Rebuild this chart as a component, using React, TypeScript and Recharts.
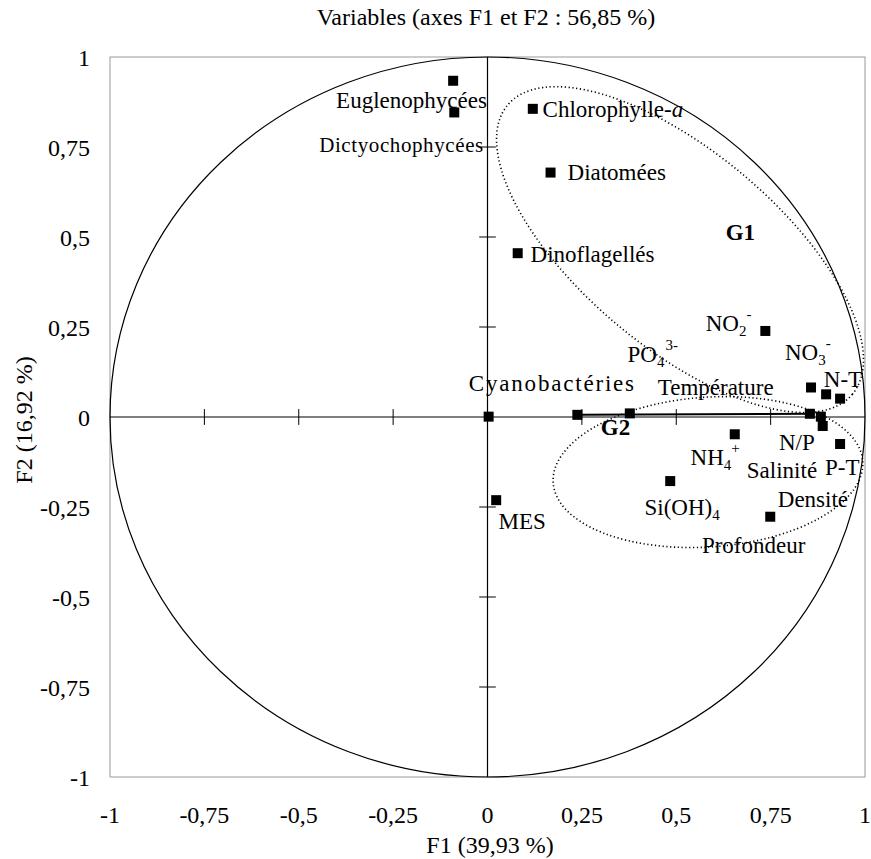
import React from "react";
import {
  ScatterChart,
  Scatter,
  XAxis,
  YAxis,
  ReferenceLine,
  ReferenceArea,
} from "recharts";

const FONT = "'Liberation Serif', 'Times New Roman', Times, serif";

// variables projected on the F1 / F2 plane
const VARIABLES = [
  "Euglenophycées", "Dictyochophycées", "Chlorophylle-a", "Diatomées",
  "Dinoflagellés", "NO2-", "N-T", "NO3-", "Azote", "Température", "N/P",
  "Salinité", "P-T", "NH4+", "Cyanobactéries", "PO43-", "Origine", "MES",
  "Si(OH)4", "Profondeur",
];
const F1 = [
  -0.091, -0.088, 0.12, 0.167, 0.08, 0.736, 0.857, 0.897, 0.934, 0.854,
  0.883, 0.888, 0.934, 0.655, 0.238, 0.377, 0.003, 0.023, 0.484, 0.749,
];
const F2 = [
  0.934, 0.846, 0.856, 0.679, 0.455, 0.239, 0.082, 0.063, 0.051, 0.009,
  0.001, -0.025, -0.075, -0.048, 0.006, 0.01, 0.001, -0.231, -0.178, -0.277,
];

const TICKS = [-1, -0.75, -0.5, -0.25, 0, 0.25, 0.5, 0.75, 1];
const AXIS_MARKS = [-0.75, -0.5, -0.25, 0.25, 0.5, 0.75];

// label anchors (F1, F2 of text baseline start)
const LABELS = [
  { text: "Euglenophycées", x: -0.401, y: 0.858 },
  { text: "Dictyochophycées", x: -0.446, y: 0.736, small: true },
  { text: "Chlorophylle-", italic: "a", x: 0.146, y: 0.833 },
  { text: "Diatomées", x: 0.212, y: 0.658 },
  { text: "Dinoflagellés", x: 0.114, y: 0.431 },
  { text: "G1", x: 0.631, y: 0.492, bold: true },
  { text: "NO", sub: "2", sup: "-", x: 0.578, y: 0.239 },
  { text: "NO", sub: "3", sup: "-", x: 0.788, y: 0.158 },
  { text: "PO", sub: "4", sup: "3-", x: 0.371, y: 0.153 },
  { text: "N-T", x: 0.891, y: 0.083 },
  { text: "Cyanobactéries", x: 0.393, y: 0.072, end: true, wide: true },
  { text: "Température", x: 0.451, y: 0.061 },
  { text: "G2", x: 0.3, y: -0.05, bold: true },
  { text: "N/P", x: 0.772, y: -0.092 },
  { text: "NH", sub: "4", sup: "+", x: 0.538, y: -0.133 },
  { text: "Salinité", x: 0.687, y: -0.169 },
  { text: "P-T", x: 0.894, y: -0.161 },
  { text: "Si(OH)", sub: "4", x: 0.416, y: -0.272 },
  { text: "Densité", x: 0.769, y: -0.25 },
  { text: "MES", x: 0.029, y: -0.311 },
  { text: "Profondeur", x: 0.568, y: -0.378 },
];

// group ellipses: centre and half axes in F1/F2 units
const G1 = { x: 0.51, y: 0.465, rx: 0.596, ry: 0.272, angle: 40 };
const G2 = { x: 0.584, y: -0.153, rx: 0.411, ry: 0.208, angle: -4 };

const fmt = (v: number) => String(v).replace(".", ",");

const points = VARIABLES.map((name, i) => ({ name, x: F1[i], y: F2[i] }));

const ellipseShape = (angle: number) => (p: any) => {
  const cx = p.x + p.width / 2;
  const cy = p.y + p.height / 2;
  return (
    <ellipse
      cx={cx}
      cy={cy}
      rx={Math.abs(p.width) / 2}
      ry={Math.abs(p.height) / 2}
      fill="none"
      stroke="#000"
      strokeWidth={1.6}
      strokeDasharray="1.2 2.6"
      transform={`rotate(${angle} ${cx} ${cy})`}
    />
  );
};

const frameShape = (p: any) => (
  <g>
    <rect x={p.x} y={p.y} width={p.width} height={p.height} fill="none" stroke="#9a9a9a" strokeWidth={1} />
    <ellipse
      cx={p.x + p.width / 2}
      cy={p.y + p.height / 2}
      rx={p.width / 2}
      ry={p.height / 2}
      fill="none"
      stroke="#000"
      strokeWidth={1.2}
    />
  </g>
);

const squareShape = (p: any) => (
  <rect x={p.cx - 5} y={p.cy - 5} width={10} height={10} fill="#000" />
);

const labelShape = (p: any) => {
  const l = p.payload;
  return (
    <text
      x={p.cx}
      y={p.cy}
      fontFamily={FONT}
      fontSize={l.small ? 21 : 23}
      fontWeight={l.bold ? "bold" : "normal"}
      letterSpacing={l.small ? 0.6 : l.wide ? 1.8 : 0}
      textAnchor={l.end ? "end" : "start"}
      fill="#000"
    >
      <tspan>{l.text}</tspan>
      {l.italic && <tspan fontStyle="italic">{l.italic}</tspan>}
      {l.sub && (
        <tspan fontSize={15} dy={5}>
          {l.sub}
        </tspan>
      )}
      {l.sup && (
        <tspan fontSize={15} dy={l.sub ? -17 : -11} dx={l.sup.length > 1 ? 1 : 0}>
          {l.sup}
        </tspan>
      )}
    </text>
  );
};

export default function App() {
  const tick = { fill: "#000", fontSize: 24, fontFamily: FONT };
  return (
    <div style={{ position: "absolute", left: 0, top: 0, width: 871, height: 859, background: "#fff", fontFamily: FONT }}>
      <div
        style={{
          position: "absolute",
          left: 486,
          top: 5,
          transform: "translateX(-50%)",
          whiteSpace: "nowrap",
          fontSize: 24,
          lineHeight: "24px",
        }}
      >
        Variables (axes F1 et F2 : 56,85 %)
      </div>
      <div
        style={{
          position: "absolute",
          left: 490,
          top: 833,
          transform: "translateX(-50%)",
          whiteSpace: "nowrap",
          fontSize: 24,
          lineHeight: "24px",
        }}
      >
        F1 (39,93 %)
      </div>
      <div
        style={{
          position: "absolute",
          left: 24,
          top: 420,
          transform: "translate(-50%, -50%) rotate(-90deg)",
          whiteSpace: "nowrap",
          fontSize: 24,
          lineHeight: "24px",
        }}
      >
        F2 (16,92 %)
      </div>
      <ScatterChart width={871} height={859} margin={{ top: 57, right: 6, bottom: 0, left: 0 }}>
        <XAxis
          type="number"
          dataKey="x"
          domain={[-1, 1]}
          ticks={TICKS}
          tickFormatter={fmt}
          axisLine={false}
          tickLine={false}
          tickSize={0}
          tickMargin={29}
          height={82}
          tick={tick}
          allowDataOverflow
        />
        <YAxis
          type="number"
          dataKey="y"
          domain={[-1, 1]}
          ticks={TICKS}
          tickFormatter={fmt}
          axisLine={false}
          tickLine={false}
          tickSize={0}
          tickMargin={20}
          width={110}
          tick={tick}
          allowDataOverflow
        />
        <ReferenceArea x1={-1} x2={1} y1={-1} y2={1} shape={frameShape} ifOverflow="visible" />
        <ReferenceArea
          x1={G1.x - G1.rx}
          x2={G1.x + G1.rx}
          y1={G1.y - G1.ry}
          y2={G1.y + G1.ry}
          shape={ellipseShape(G1.angle)}
          ifOverflow="visible"
        />
        <ReferenceArea
          x1={G2.x - G2.rx}
          x2={G2.x + G2.rx}
          y1={G2.y - G2.ry}
          y2={G2.y + G2.ry}
          shape={ellipseShape(G2.angle)}
          ifOverflow="visible"
        />
        <ReferenceLine x={0} stroke="#000" strokeWidth={1.2} />
        <ReferenceLine y={0} stroke="#000" strokeWidth={1.2} />
        {AXIS_MARKS.map((t) => (
          <ReferenceLine
            key={"h" + t}
            segment={[{ x: t, y: -0.022 }, { x: t, y: 0.022 }]}
            stroke="#000"
            strokeWidth={1}
          />
        ))}
        {AXIS_MARKS.map((t) => (
          <ReferenceLine
            key={"v" + t}
            segment={[{ x: -0.022, y: t }, { x: 0.022, y: t }]}
            stroke="#000"
            strokeWidth={1}
          />
        ))}
        <ReferenceLine
          segment={[{ x: F1[14], y: F2[14] }, { x: F1[9], y: F2[9] }]}
          stroke="#000"
          strokeWidth={2}
        />
        <Scatter data={points} shape={squareShape} isAnimationActive={false} />
        <Scatter data={LABELS} shape={labelShape} isAnimationActive={false} />
      </ScatterChart>
    </div>
  );
}
